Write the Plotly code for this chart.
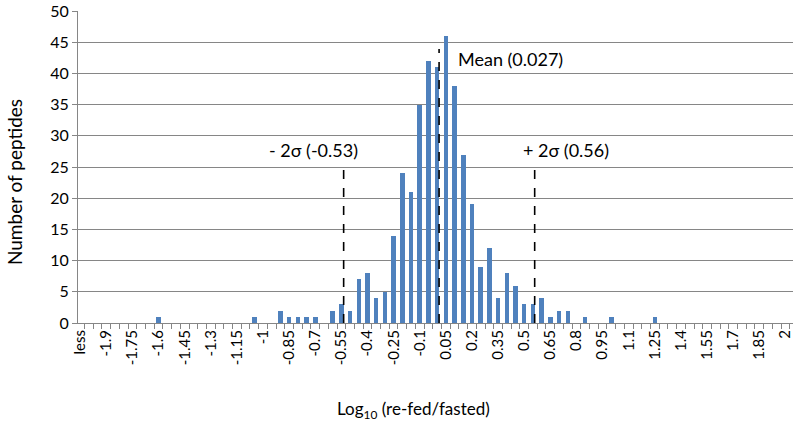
import plotly.graph_objects as go

# Histogram bins: "less" then -2.00 .. 2.00 in steps of 0.05
bin_values = [-1.6, -1.05, -0.9, -0.85, -0.8, -0.75, -0.7, -0.6, -0.55, -0.5,
              -0.45, -0.4, -0.35, -0.3, -0.25, -0.2, -0.15, -0.1, -0.05, 0.0,
              0.05, 0.1, 0.15, 0.2, 0.25, 0.3, 0.35, 0.4, 0.45, 0.5,
              0.55, 0.6, 0.65, 0.7, 0.75, 0.85, 1.0, 1.25]
counts = [1, 1, 2, 1, 1, 1, 1, 2, 3, 2,
          7, 8, 4, 5, 14, 24, 21, 35, 42, 41,
          46, 38, 27, 19, 9, 12, 4, 8, 6, 3,
          3, 4, 1, 2, 2, 1, 1, 1]

tick_labels = ["less", "-1.9", "-1.75", "-1.6", "-1.45", "-1.3", "-1.15", "-1",
               "-0.85", "-0.7", "-0.55", "-0.4", "-0.25", "-0.1", "0.05", "0.2",
               "0.35", "0.5", "0.65", "0.8", "0.95", "1.1", "1.25", "1.4", "1.55",
               "1.7", "1.85", "2"]
tick_positions = [-2.05] + [float(t) for t in tick_labels[1:]]

# dashed marker lines (positions) and their labels
line_labels = ["- 2σ (-0.53)", "Mean (0.027)", "+ 2σ (0.56)"]
line_x = [-0.537, 0.011, 0.56]
line_top = [25.2, 43.9, 25.2]
label_y = [27.7, 42.3, 27.7]

FONT = "Lato, 'Open Sans', sans-serif"
BAR = "#4F81BD"

fig = go.Figure()
fig.add_trace(go.Bar(x=bin_values, y=counts, width=0.026,
                     marker=dict(color=BAR, line=dict(width=0)),
                     hoverinfo="x+y"))

for lx, lt in zip(line_x, line_top):
    fig.add_shape(type="line", x0=lx, x1=lx, y0=0, y1=lt, xref="x", yref="y",
                  line=dict(color="black", width=1.6, dash="dash"))

anchors = ["right", "left", "center"]
shifts = [16, 17, 31]
for txt, lx, ly, anc, sh in zip(line_labels, line_x, label_y, anchors, shifts):
    fig.add_annotation(x=lx, y=ly, text=txt, showarrow=False,
                       xanchor=anc, yanchor="middle", xshift=sh,
                       font=dict(family=FONT, size=18, color="black"))

# axis titles as annotations (positioned like the reference)
fig.add_annotation(xref="paper", yref="paper", x=-0.088, y=0.452,
                   text="Number of peptides", textangle=-90, showarrow=False,
                   xanchor="center", yanchor="middle",
                   font=dict(family=FONT, size=19, color="black"))
fig.add_annotation(xref="paper", yref="paper", x=0.4686, y=-0.279,
                   text="Log<sub>10</sub> (re-fed/fasted)", showarrow=False,
                   xanchor="center", yanchor="middle",
                   font=dict(family=FONT, size=17, color="black"))

fig.update_layout(
    width=800, height=425,
    margin=dict(l=78, r=7, t=11, b=102),
    plot_bgcolor="white", paper_bgcolor="white",
    showlegend=False,
    bargap=0,
    font=dict(family=FONT, size=14, color="black"),
    xaxis=dict(
        range=[-2.0626, 2.0435], automargin=False,
        tickmode="array", tickvals=tick_positions, ticktext=tick_labels,
        tickangle=-90, ticks="", showgrid=False, zeroline=False,
        ticklabeloverflow="allow",
        showline=True, linecolor="#868686", linewidth=1,
        tickfont=dict(family=FONT, size=15, color="black"),
        minor=dict(ticks="outside", ticklen=5, tickcolor="#868686",
                   tick0=-2.025, dtick=0.05, showgrid=False),
        fixedrange=True,
    ),
    yaxis=dict(
        range=[0, 50], tickmode="linear", tick0=0, dtick=5, automargin=False,
        showgrid=True, gridcolor="#868686", gridwidth=1,
        zeroline=False, showline=True, linecolor="#868686", linewidth=1,
        ticks="outside", ticklen=5, tickcolor="#868686",
        ticklabeloverflow="allow",
        tickfont=dict(family=FONT, size=16, color="black"),
        fixedrange=True,
    ),
)

fig.write_html("out.html", config={"displayModeBar": False},
               post_script="document.body.style.margin='0';")
